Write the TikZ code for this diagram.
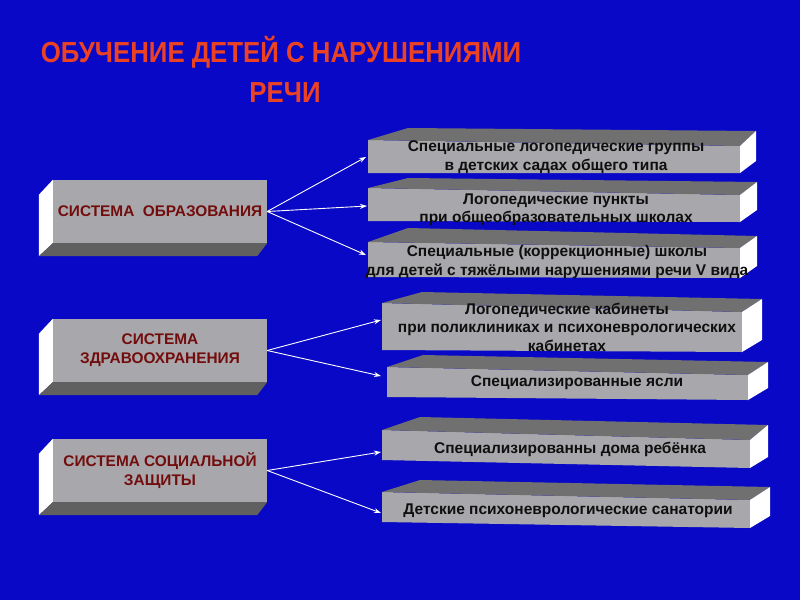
\documentclass[tikz,border=0pt]{standalone}
\usepackage{fontspec}
\setmainfont{Liberation Sans}
\usetikzlibrary{arrows.meta,calc}
\definecolor{bgblue}{RGB}{8,8,198}
\definecolor{frontgray}{RGB}{168,168,172}
\definecolor{topgray}{RGB}{112,112,112}
\definecolor{botgray}{RGB}{96,96,96}
\definecolor{titlered}{RGB}{236,66,36}
\definecolor{ltextc}{RGB}{115,12,12}
\definecolor{rtextc}{RGB}{15,15,15}
\tikzset{
  titletext/.style={text=titlered,font=\fontsize{29}{34}\selectfont\bfseries,inner sep=0pt,anchor=base},
  lfront/.style={fill=frontgray,minimum width=214pt,minimum height=63pt,inner sep=0pt,align=center,
    text=ltextc,font=\fontsize{15.4}{19}\selectfont\bfseries},
  front/.style={fill=frontgray},
  topface/.style={fill=topgray},
  sideface/.style={fill=white},
  botface/.style={fill=botgray},
  rtext/.style={text=rtextc,font=\fontsize{15.5}{18.5}\selectfont\bfseries,inner sep=0pt,align=center},
  arr/.style={draw=white,line width=0.9pt,-{Stealth[length=7pt,width=5pt]}}
}
\newcommand\leftfaces[1]{%
  \fill[sideface] (#1.north west) -- ++(-14,15) -- ($(#1.south west)+(-14,13)$) -- (#1.south west) -- cycle;
  \fill[botface] (#1.south west) -- (#1.south east) -- ++(-10,13) -- ($(#1.south west)+(-14,13)$) -- cycle;
}
\begin{document}
\begin{tikzpicture}[x=1pt,y=-1pt]
\fill[bgblue] (0,0) rectangle (800,600);
\useasboundingbox (0,0) rectangle (800,600);

% title
\node[titletext] (t1) at (281,62) {\scalebox{0.89}[1]{ОБУЧЕНИЕ ДЕТЕЙ С НАРУШЕНИЯМИ}};
\node[titletext] (t2) at (285,102) {\scalebox{0.89}[1]{РЕЧИ}};

% left boxes
\node[lfront] (L1) at (160,211.5) {СИСТЕМА\ \ ОБРАЗОВАНИЯ};
\leftfaces{L1}
\node[lfront] (L2) at (160,350.5) {СИСТЕМА\\ЗДРАВООХРАНЕНИЯ};
\leftfaces{L2}
\node[lfront] (L3) at (160,470.5) {СИСТЕМА СОЦИАЛЬНОЙ\\ЗАЩИТЫ};
\leftfaces{L3}

% right box 1
\fill[front] (368,140) -- (740,146) -- (740,173) -- (368,173) -- cycle;
\fill[topface] (368,140) -- (408,128) -- (756,131) -- (740,146) -- cycle;
\fill[sideface] (740,146) -- (756,131) -- (756,161) -- (740,173) -- cycle;
\node[rtext] (r1) at (556,157) {Специальные логопедические группы\\в детских садах общего типа};
\coordinate (r1w) at (366,157);

% right box 2
\fill[front] (368,188) -- (740,195) -- (740,222) -- (368,221) -- cycle;
\fill[topface] (368,188) -- (408,178) -- (757,182) -- (740,195) -- cycle;
\fill[sideface] (740,195) -- (757,182) -- (757,210) -- (740,222) -- cycle;
\node[rtext] (r2) at (556,210) {Логопедические пункты\\при общеобразовательных школах};
\coordinate (r2w) at (367,206);

% right box 3
\fill[front] (368,242) -- (740,248) -- (740,278) -- (368,277) -- cycle;
\fill[topface] (368,242) -- (408,228) -- (757,236) -- (740,248) -- cycle;
\fill[sideface] (740,248) -- (757,236) -- (757,266) -- (740,278) -- cycle;
\node[rtext] (r3) at (557,262) {Специальные (коррекционные) школы\\для детей с тяжёлыми нарушениями речи V вида};
\coordinate (r3w) at (366,255);

% right box 4
\fill[front] (382,303) -- (742,312) -- (742,352) -- (382,350) -- cycle;
\fill[topface] (382,303) -- (422,292) -- (762,299) -- (742,312) -- cycle;
\fill[sideface] (742,312) -- (762,299) -- (762,340) -- (742,352) -- cycle;
\node[rtext] (r4) at (567,327) {Логопедические кабинеты\\при поликлиниках и психоневрологических\\кабинетах};
\coordinate (r4w) at (381,320);

% right box 5
\fill[front] (387,367) -- (748,375) -- (748,400) -- (387,397) -- cycle;
\fill[topface] (387,367) -- (423,355) -- (768,362) -- (748,375) -- cycle;
\fill[sideface] (748,375) -- (768,362) -- (768,388) -- (748,400) -- cycle;
\node[rtext] (r5) at (577,383) {Специализированные ясли};
\coordinate (r5w) at (381,376);

% right box 6
\fill[front] (382,430) -- (750,440) -- (750,468) -- (382,460) -- cycle;
\fill[topface] (382,430) -- (420,417) -- (768,425) -- (750,440) -- cycle;
\fill[sideface] (750,440) -- (768,425) -- (768,457) -- (750,468) -- cycle;
\node[rtext] (r6) at (570,449) {Специализированны дома ребёнка};
\coordinate (r6w) at (381,452);

% right box 7
\fill[front] (382,492) -- (750,500) -- (750,528) -- (382,522) -- cycle;
\fill[topface] (382,492) -- (420,480) -- (770,487) -- (750,500) -- cycle;
\fill[sideface] (750,500) -- (770,487) -- (770,516) -- (750,528) -- cycle;
\node[rtext] (r7) at (568,511) {Детские психоневрологические санатории};
\coordinate (r7w) at (381,513);

% connectors
\draw[arr] (L1.east) -- (r1w);
\draw[arr] (L1.east) -- (r2w);
\draw[arr] (L1.east) -- (r3w);
\draw[arr] (L2.east) -- (r4w);
\draw[arr] (L2.east) -- (r5w);
\draw[arr] (L3.east) -- (r6w);
\draw[arr] (L3.east) -- (r7w);
\end{tikzpicture}
\end{document}
